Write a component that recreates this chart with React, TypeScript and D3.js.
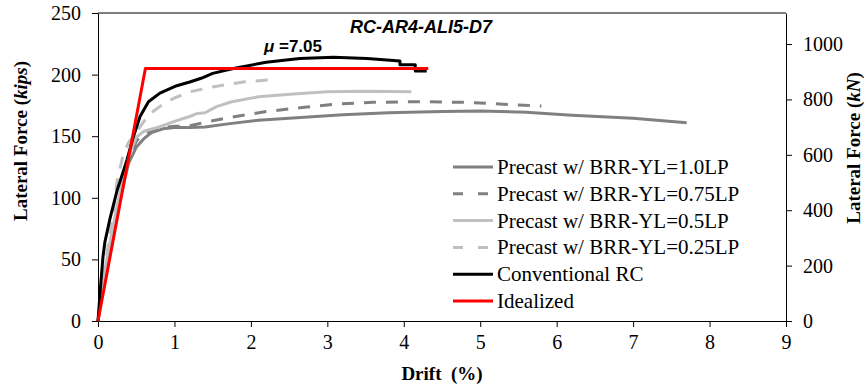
// @ts-nocheck
import * as d3 from "d3";
import React, { useRef, useEffect } from "react";

// drift (%) vs lateral force (kips)
const precast10 = [
  [0, 0], [0.05, 22], [0.1, 40], [0.2, 72], [0.3, 102], [0.4, 128], [0.5, 141], [0.6, 148],
  [0.7, 153], [0.85, 156], [1.0, 157], [1.2, 157], [1.4, 157.5], [1.7, 160], [2.1, 163],
  [2.6, 165], [3.2, 167.5], [3.8, 169], [4.5, 170], [5.0, 170.5], [5.6, 169.5], [6.2, 167],
  [7.0, 164.5], [7.7, 161],
];
const precast075 = [
  [0, 0], [0.05, 22], [0.1, 42], [0.2, 75], [0.3, 105], [0.4, 131], [0.5, 146], [0.6, 152],
  [0.7, 155], [0.85, 157], [1.0, 158], [1.2, 158.5], [1.45, 162], [1.8, 166], [2.2, 170],
  [2.7, 173.5], [3.1, 176], [3.6, 177.5], [4.2, 178], [4.8, 177.5], [5.3, 176], [5.8, 174.5],
];
const precast05 = [
  [0, 0], [0.05, 24], [0.1, 45], [0.2, 78], [0.3, 108], [0.4, 134], [0.5, 149], [0.6, 154],
  [0.8, 157.5], [1.0, 162], [1.2, 166], [1.3, 168.5], [1.4, 169], [1.55, 174], [1.75, 178],
  [2.1, 182], [2.6, 184.5], [3.0, 186], [3.5, 186.5], [4.1, 186],
];
const precast025 = [
  [0, 0], [0.05, 25], [0.1, 48], [0.2, 88], [0.25, 114], [0.33, 135], [0.4, 145], [0.5, 153],
  [0.6, 162], [0.72, 170], [0.85, 176], [1.0, 181], [1.2, 186], [1.5, 190], [1.9, 194], [2.3, 196],
];
const conventional = [
  [0, 0], [0.03, 25], [0.065, 52], [0.09, 64], [0.16, 84], [0.25, 106], [0.38, 131], [0.46, 149],
  [0.55, 166], [0.66, 178], [0.81, 185], [1.03, 191], [1.2, 194], [1.35, 197], [1.5, 201],
  [1.77, 205], [2.2, 210], [2.64, 213], [3.08, 214], [3.52, 213], [3.95, 211], [3.95, 208],
  [4.15, 208], [4.15, 203], [4.3, 203],
];
const idealized = [[0, 0], [0.62, 205], [4.32, 205]];

const xTicks = [0, 1, 2, 3, 4, 5, 6, 7, 8, 9];
const yTicks = [0, 50, 100, 150, 200, 250];
const kNTicks = [0, 200, 400, 600, 800, 1000];
const KIPS_TO_KN = 4.448;

const series = [
  { name: "Precast w/ BRR-YL=1.0LP", data: precast10, color: "#808080", dash: null },
  { name: "Precast w/ BRR-YL=0.75LP", data: precast075, color: "#808080", dash: "12,10" },
  { name: "Precast w/ BRR-YL=0.5LP", data: precast05, color: "#c0c0c0", dash: null },
  { name: "Precast w/ BRR-YL=0.25LP", data: precast025, color: "#c0c0c0", dash: "12,10" },
  { name: "Conventional RC", data: conventional, color: "#000000", dash: null },
  { name: "Idealized", data: idealized, color: "#ff0000", dash: null },
];

export default function App() {
  const svgRef = useRef(null);

  useEffect(() => {
    const width = 866;
    const height = 390;
    const margin = { top: 13, right: 80, bottom: 69, left: 98 };
    const serif = "'Liberation Serif', 'Times New Roman', serif";
    const sans = "'Liberation Sans', Arial, sans-serif";

    const svg = d3.select(svgRef.current).attr("width", width).attr("height", height);
    svg.selectAll("*").remove();

    const x = d3.scaleLinear().domain([0, 9]).range([margin.left, width - margin.right]);
    const y = d3.scaleLinear().domain([0, 250]).range([height - margin.bottom, margin.top]);
    const yKN = d3.scaleLinear().domain([0, 250 * KIPS_TO_KN]).range([height - margin.bottom, margin.top]);

    // frame top
    svg.append("line")
      .attr("x1", x(0)).attr("x2", x(9)).attr("y1", y(250)).attr("y2", y(250))
      .attr("stroke", "#000").attr("stroke-width", 1);

    const styleAxis = (g) => {
      g.attr("font-family", null);
      g.selectAll("path").attr("stroke", "#000");
      g.selectAll("line").attr("stroke", "#000");
      g.selectAll("text")
        .style("font-family", serif)
        .style("font-size", "20px")
        .attr("fill", "#000");
    };

    svg.append("g")
      .attr("transform", `translate(0,${y(0)})`)
      .call(d3.axisBottom(x).tickValues(xTicks).tickFormat(d3.format("d")).tickSize(6).tickSizeOuter(0).tickPadding(8))
      .call(styleAxis);

    svg.append("g")
      .attr("transform", `translate(${x(0)},0)`)
      .call(d3.axisLeft(y).tickValues(yTicks).tickFormat(d3.format("d")).tickSize(6).tickSizeOuter(0).tickPadding(11))
      .call(styleAxis);

    svg.append("g")
      .attr("transform", `translate(${x(9)},0)`)
      .call(d3.axisRight(yKN).tickValues(kNTicks).tickFormat(d3.format("d")).tickSize(6).tickSizeOuter(0).tickPadding(11))
      .call(styleAxis);

    const line = d3.line().x(d => x(d[0])).y(d => y(d[1]));

    series.forEach(s => {
      svg.append("path")
        .datum(s.data)
        .attr("fill", "none")
        .attr("stroke", s.color)
        .attr("stroke-width", 3)
        .attr("stroke-linejoin", "round")
        .attr("stroke-dasharray", s.dash)
        .attr("d", line);
    });

    // legend
    const legend = svg.append("g").attr("transform", "translate(453,167)");
    series.forEach((s, i) => {
      const row = legend.append("g").attr("transform", `translate(0,${i * 26.8})`);
      row.append("line")
        .attr("x1", 0).attr("x2", 40).attr("y1", 0).attr("y2", 0)
        .attr("stroke", s.color).attr("stroke-width", 3)
        .attr("stroke-dasharray", s.dash ? "10,15" : null);
      row.append("text")
        .attr("x", 44).attr("y", 7)
        .style("font-family", serif).style("font-size", "21px")
        .text(s.name);
    });

    // axis titles
    const left = svg.append("text")
      .attr("transform", "translate(27,141) rotate(-90)")
      .attr("text-anchor", "middle")
      .style("font-family", serif).style("font-size", "19px").attr("font-weight", "bold");
    left.append("tspan").text("Lateral Force (");
    left.append("tspan").attr("font-style", "italic").text("kips");
    left.append("tspan").text(")");

    const right = svg.append("text")
      .attr("transform", "translate(860,148) rotate(-90)")
      .attr("text-anchor", "middle")
      .style("font-family", serif).style("font-size", "19px").attr("font-weight", "bold");
    right.append("tspan").text("Lateral Force (");
    right.append("tspan").attr("font-style", "italic").text("kN");
    right.append("tspan").text(")");

    svg.append("text")
      .attr("x", (x(0) + x(9)) / 2).attr("y", 380)
      .attr("text-anchor", "middle")
      .style("font-family", serif).style("font-size", "19px").attr("font-weight", "bold")
      .style("white-space", "pre")
      .text("Drift  (%)");

    // annotations
    svg.append("text")
      .attr("x", 350).attr("y", 33)
      .style("font-family", sans).style("font-size", "18px")
      .attr("font-weight", "bold").attr("font-style", "italic")
      .text("RC-AR4-ALI5-D7");

    const mu = svg.append("text")
      .attr("x", 264).attr("y", 52)
      .style("font-family", sans).style("font-size", "17px").attr("font-weight", "bold");
    mu.append("tspan").attr("font-style", "italic").text("μ");
    mu.append("tspan").text(" =7.05");
  }, []);

  return <svg ref={svgRef} style={{ position: "absolute", left: 0, top: 0 }} />;
}
